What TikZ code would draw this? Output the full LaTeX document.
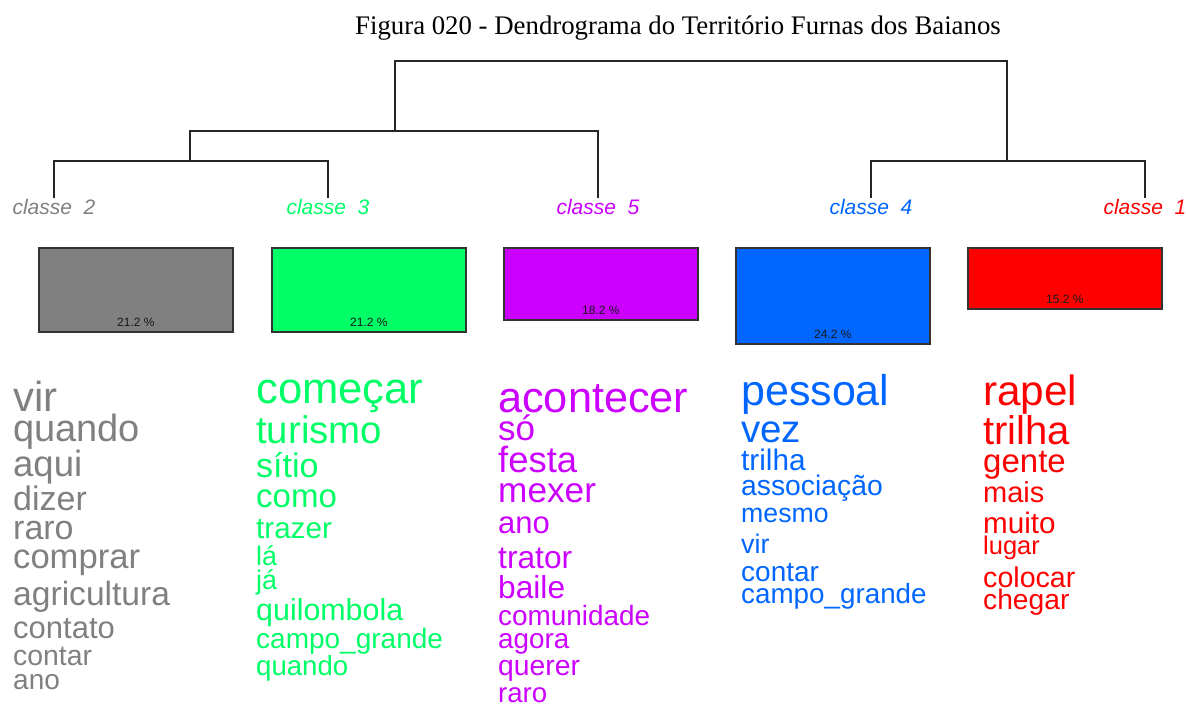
\documentclass[tikz,border=0pt]{standalone}
\usepackage{fontspec}
\setmainfont{Liberation Serif}
\setsansfont{Liberation Sans}
\usetikzlibrary{positioning}
\definecolor{cgray}{HTML}{808080}
\definecolor{cgreen}{HTML}{00FF66}
\definecolor{cpurple}{HTML}{CC00FF}
\definecolor{cblue}{HTML}{0066FF}
\definecolor{cred}{HTML}{FF0000}
\newcommand{\wsize}[1]{\fontsize{#1}{#1}\selectfont}
\begin{document}
\begin{tikzpicture}[x=1pt, y=-1pt,
	tree/.style={line width=2pt, draw=black!85},
	classe/.style={anchor=base, inner sep=0pt, font=\sffamily\itshape\wsize{21}},
	bar/.style={draw=black!80, line width=1.8pt, anchor=north west, minimum width=194pt, inner sep=0pt},
	pct/.style={anchor=base, inner sep=0pt, font=\sffamily\wsize{12}, text=black!90},
	word/.style={anchor=base west, inner sep=0pt, font=\sffamily}]
		\useasboundingbox (0,0) rectangle (1186,705);
		\node[anchor=base, inner sep=0pt, font=\wsize{26.8}] (title) at (678,34) {Figura 020 - Dendrograma do Território Furnas dos Baianos};
		% classes and dendrogram
		\node[classe, cgray] (c2) at (54,214) {classe\ \ 2};
		\node[classe, cgreen] (c3) at (328,214) {classe\ \ 3};
		\node[classe, cpurple] (c5) at (598,214) {classe\ \ 5};
		\node[classe, cblue] (c4) at (871,214) {classe\ \ 4};
		\node[classe, cred] (c1) at (1145,214) {classe\ \ 1};
		\coordinate (m23) at (190,161);
		\coordinate (m235) at (395,131);
		\coordinate (m41) at (1007,161);
		\coordinate (root) at (700,61);
		\draw[tree] ([yshift=1pt]c2.north) |- (m23) -| ([yshift=1pt]c3.north);
		\draw[tree] (m23) |- (m235) -| ([yshift=1pt]c5.north);
		\draw[tree] ([yshift=1pt]c4.north) |- (m41) -| ([yshift=1pt]c1.north);
		\draw[tree] (m235) |- (root) -| (m41);
		% bars
		\node[bar, fill=cgray, minimum height=84pt] (b2) at (38,247) {};
		\node[bar, fill=cgreen, minimum height=84pt] (b3) at (271,247) {};
		\node[bar, fill=cpurple, minimum height=72pt] (b5) at (503,247) {};
		\node[bar, fill=cblue, minimum height=96pt] (b4) at (735,247) {};
		\node[bar, fill=cred, minimum height=61pt] (b1) at (967,247) {};
		\node[pct] (p2) at ([yshift=6.5pt]b2.south) {21.2 \%};
		\node[pct] (p3) at ([yshift=6.5pt]b3.south) {21.2 \%};
		\node[pct] (p5) at ([yshift=6.5pt]b5.south) {18.2 \%};
		\node[pct] (p4) at ([yshift=6.5pt]b4.south) {24.2 \%};
		\node[pct] (p1) at ([yshift=6.5pt]b1.south) {15.2 \%};
		% classe 2
		\node[word, cgray] (g1) at (13,411) {\wsize{42}vir};
		\node[word, cgray] (g2) at (13,441) {\wsize{38}quando};
		\node[word, cgray] (g3) at (13,476) {\wsize{36.5}aqui};
		\node[word, cgray] (g4) at (13,510) {\wsize{34}dizer};
		\node[word, cgray] (g5) at (13,539) {\wsize{34}raro};
		\node[word, cgray] (g6) at (13,568) {\wsize{34.6}comprar};
		\node[word, cgray] (g7) at (13,605) {\wsize{33.6}agricultura};
		\node[word, cgray] (g8) at (13,638) {\wsize{31}contato};
		\node[word, cgray] (g9) at (13,665) {\wsize{28.4}contar};
		\node[word, cgray] (g10) at (13,689) {\wsize{28}ano};
		% classe 3
		\node[word, cgreen] (v1) at (256,403) {\wsize{43.6}começar};
		\node[word, cgreen] (v2) at (256,443) {\wsize{38.4}turismo};
		\node[word, cgreen] (v3) at (256,477) {\wsize{34}sítio};
		\node[word, cgreen] (v4) at (256,507) {\wsize{33}como};
		\node[word, cgreen] (v5) at (256,538) {\wsize{29.6}trazer};
		\node[word, cgreen] (v6) at (256,565) {\wsize{27}lá};
		\node[word, cgreen] (v7) at (256,589) {\wsize{27}já};
		\node[word, cgreen] (v8) at (256,620) {\wsize{30.4}quilombola};
		\node[word, cgreen] (v9) at (256,648) {\wsize{28}campo\_grande};
		\node[word, cgreen] (v10) at (256,675) {\wsize{27.6}quando};
		% classe 5
		\node[word, cpurple] (r1) at (498,412) {\wsize{43.3}acontecer};
		\node[word, cpurple] (r2) at (498,440) {\wsize{35}só};
		\node[word, cpurple] (r3) at (498,472) {\wsize{36.4}festa};
		\node[word, cpurple] (r4) at (498,502) {\wsize{35.2}mexer};
		\node[word, cpurple] (r5) at (498,533) {\wsize{31}ano};
		\node[word, cpurple] (r6) at (498,568) {\wsize{31.7}trator};
		\node[word, cpurple] (r7) at (498,598) {\wsize{31.7}baile};
		\node[word, cpurple] (r8) at (498,625) {\wsize{27.9}comunidade};
		\node[word, cpurple] (r9) at (498,648) {\wsize{27.8}agora};
		\node[word, cpurple] (r10) at (498,675) {\wsize{28.3}querer};
		\node[word, cpurple] (r11) at (498,702) {\wsize{27.6}raro};
		% classe 4
		\node[word, cblue] (a1) at (741,405) {\wsize{43}pessoal};
		\node[word, cblue] (a2) at (741,442) {\wsize{38.5}vez};
		\node[word, cblue] (a3) at (741,470) {\wsize{29.7}trilha};
		\node[word, cblue] (a4) at (741,495) {\wsize{28.3}associação};
		\node[word, cblue] (a5) at (741,522) {\wsize{26.7}mesmo};
		\node[word, cblue] (a6) at (741,553) {\wsize{26.8}vir};
		\node[word, cblue] (a7) at (741,581) {\wsize{28}contar};
		\node[word, cblue] (a8) at (741,603) {\wsize{27.8}campo\_grande};
		% classe 1
		\node[word, cred] (e1) at (983,405) {\wsize{42.3}rapel};
		\node[word, cred] (e2) at (983,444) {\wsize{40}trilha};
		\node[word, cred] (e3) at (983,472) {\wsize{33}gente};
		\node[word, cred] (e4) at (983,502) {\wsize{29}mais};
		\node[word, cred] (e5) at (983,533) {\wsize{29.6}muito};
		\node[word, cred] (e6) at (983,554) {\wsize{25.5}lugar};
		\node[word, cred] (e7) at (983,587) {\wsize{28.6}colocar};
		\node[word, cred] (e8) at (983,609) {\wsize{28.2}chegar};
\end{tikzpicture}
\end{document}
